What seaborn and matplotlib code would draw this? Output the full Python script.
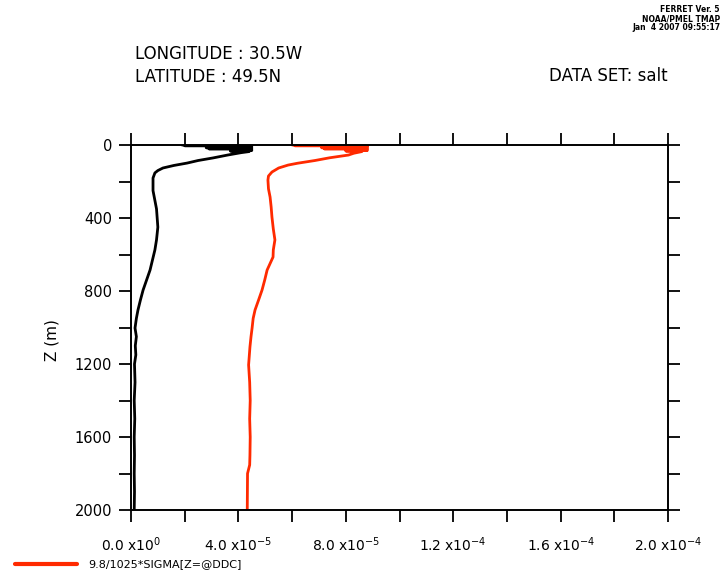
import matplotlib
matplotlib.use("Agg")
import matplotlib.pyplot as plt
import seaborn as sns
import numpy as np
import pandas as pd

# black profile (no key in the legend)
black_depth = [0, 2, 4, 6, 9, 12, 15, 18, 21, 24, 27, 30, 33, 36, 42, 55, 71, 85, 99, 112,
               126, 140, 153, 181, 250, 350, 450, 520, 575, 630, 685, 740, 795, 850, 904,
               950, 1003, 1050, 1100, 1150, 1200, 1300, 1400, 1500, 1600, 1700, 1800, 1900, 2000]
black_val = [1.9, 4.5, 2.0, 4.5, 2.8, 4.5, 2.8, 4.5, 2.9, 4.5, 3.7, 4.5, 3.7, 4.4, 4.1, 3.6,
             3.05, 2.5, 2.09, 1.6, 1.19, 1.0, 0.89, 0.82, 0.82, 0.95, 1.0, 0.95, 0.89, 0.8,
             0.71, 0.58, 0.45, 0.35, 0.26, 0.2, 0.15, 0.2, 0.16, 0.18, 0.13, 0.15, 0.12, 0.14,
             0.12, 0.13, 0.12, 0.13, 0.12]

# red profile: 9.8/1025*SIGMA[Z=@DDC]
red_depth = [0, 2, 4, 6, 9, 12, 15, 18, 21, 24, 27, 30, 33, 36, 45, 55, 70, 85, 100, 110,
             126, 148, 170, 192, 240, 285, 340, 395, 460, 520, 575, 614, 685, 740, 795, 850,
             904, 950, 1003, 1050, 1107, 1205, 1300, 1400, 1500, 1600, 1700, 1753, 1800, 2000]
red_val = [6.0, 8.8, 6.1, 8.8, 7.1, 8.8, 7.1, 8.8, 7.2, 8.8, 8.0, 8.8, 8.0, 8.6, 8.3, 8.1,
           7.4, 6.85, 6.2, 5.85, 5.5, 5.25, 5.12, 5.10, 5.12, 5.18, 5.22, 5.25, 5.3, 5.36,
           5.3, 5.29, 5.07, 4.98, 4.88, 4.75, 4.62, 4.55, 4.51, 4.47, 4.43, 4.38, 4.42, 4.44,
           4.42, 4.44, 4.43, 4.42, 4.34, 4.33]

scale = 1e-5
x_major = [0, 4e-5, 8e-5, 1.2e-4, 1.6e-4, 2.0e-4]
x_labels = [r'0.0 x10$^{0}$', r'4.0 x10$^{-5}$', r'8.0 x10$^{-5}$',
            r'1.2 x10$^{-4}$', r'1.6 x10$^{-4}$', r'2.0 x10$^{-4}$']
y_major = [0, 400, 800, 1200, 1600, 2000]

W, H = 725, 574
sns.set_style("ticks")
plt.rcParams['font.family'] = ['DejaVu Sans']
plt.rcParams['text.color'] = 'black'
plt.rcParams['xtick.color'] = 'black'
plt.rcParams['ytick.color'] = 'black'
plt.rcParams['axes.labelcolor'] = 'black'

fig = plt.figure(figsize=(W / 100, H / 100), dpi=100)
ax = fig.add_axes([131 / W, 1 - 510 / H, (668 - 131) / W, (510 - 145) / H])

df_black = pd.DataFrame({'depth': black_depth, 'val': np.array(black_val) * scale})
df_red = pd.DataFrame({'depth': red_depth, 'val': np.array(red_val) * scale})

sns.lineplot(data=df_black, x='val', y='depth', sort=False, estimator=None,
             color='black', linewidth=2.0, ax=ax)
sns.lineplot(data=df_red, x='val', y='depth', sort=False, estimator=None,
             color='#ff2a00', linewidth=2.0, ax=ax)

ax.set_xlim(0, 2.0e-4)
ax.set_ylim(2000, 0)
ax.set_xticks(x_major)
ax.set_xticklabels(x_labels, fontsize=10)
ax.set_xticks(np.arange(0, 2.01e-4, 2e-5), minor=True)
ax.set_yticks(y_major)
ax.set_yticklabels([str(v) for v in y_major], fontsize=10.5)
ax.set_yticks(np.arange(0, 2001, 200), minor=True)
ax.tick_params(which='both', direction='out', length=8.6, width=1.3,
               top=True, right=True, color='black')
ax.tick_params(axis='x', pad=10)
ax.tick_params(axis='y', pad=5)
ax.set_xlabel('')
ax.set_ylabel('')
for s in ax.spines.values():
    s.set_visible(True)
    s.set_linewidth(1.4)
    s.set_color('black')

# header text
def px(x, y):
    return x / W, 1 - y / H

fig.text(*px(135, 54), 'LONGITUDE : 30.5W', fontsize=12, va='center', ha='left')
fig.text(*px(135, 77), 'LATITUDE : 49.5N', fontsize=12, va='center', ha='left')
fig.text(*px(668, 76), 'DATA SET: salt', fontsize=12, va='center', ha='right')
fig.text(*px(720, 10), 'FERRET Ver. 5', fontsize=5.5, fontweight='bold', va='center', ha='right')
fig.text(*px(720, 19), 'NOAA/PMEL TMAP', fontsize=5.5, fontweight='bold', va='center', ha='right')
fig.text(*px(720, 28), 'Jan  4 2007 09:55:17', fontsize=5.5, fontweight='bold', va='center', ha='right')
fig.text(*px(52, 340), 'Z (m)', fontsize=11, rotation=90, va='center', ha='center')

# legend key
fig.lines.append(plt.Line2D([15 / W, 77 / W], [1 - 564 / H, 1 - 564 / H],
                            transform=fig.transFigure, color='#ff2a00', linewidth=3))
fig.text(*px(88, 564), '9.8/1025*SIGMA[Z=@DDC]', fontsize=8, va='center', ha='left')

fig.savefig('out.png', dpi=100)
